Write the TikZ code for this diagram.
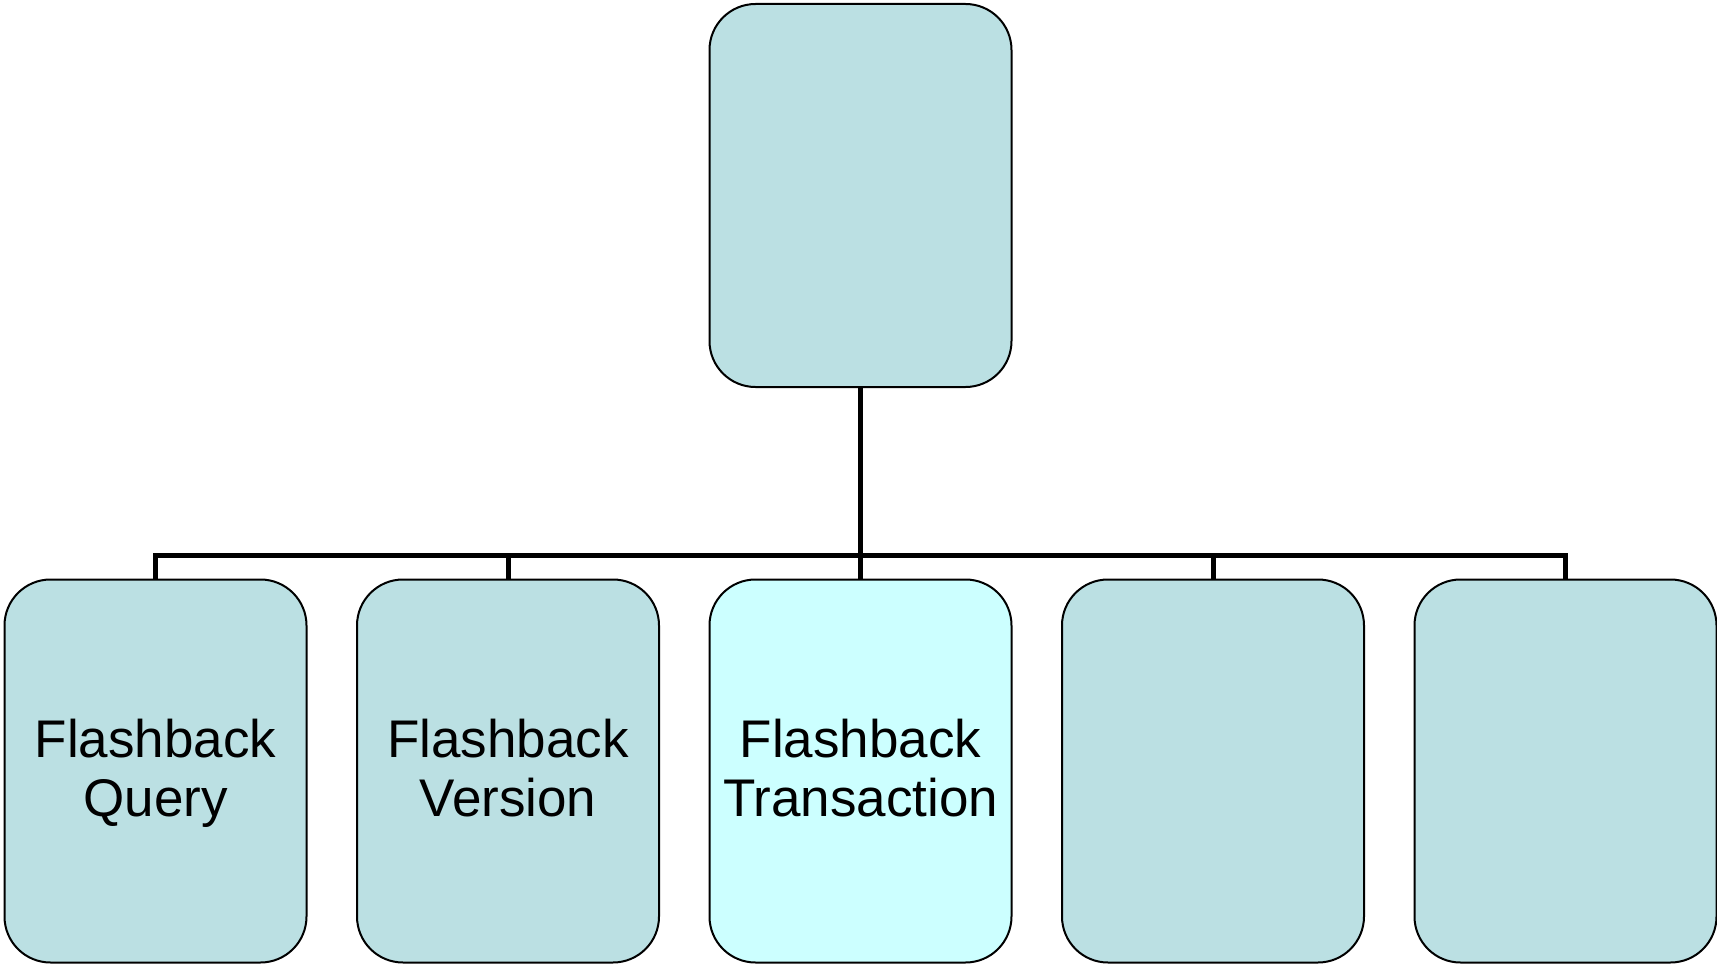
\documentclass[tikz,border=0pt]{standalone}
\usepackage{fontspec}
\setmainfont{Liberation Sans}
\definecolor{boxfill}{HTML}{BBE0E3}
\definecolor{hifill}{HTML}{CCFFFF}
\begin{document}
\begin{tikzpicture}[x=1pt,y=-1pt,
  orgbox/.style={draw=black, line width=2pt, fill=boxfill, rectangle,
    rounded corners=46pt, minimum width=302pt, minimum height=383pt, inner sep=0pt},
  lbl/.style={align=center, inner sep=0pt,
    font=\fontsize{53}{59}\selectfont},
  conn/.style={draw=black, line width=5pt, line join=miter}]
\useasboundingbox (0,0) rectangle (1717,966);

% top-level box
\node[orgbox] (top) at (860.5,195.5) {};

% second-level boxes
\node[orgbox] (b1) at (155.5,771) {};
\node[orgbox] (b2) at (508,771) {};
\node[orgbox, fill=hifill] (b3) at (860.5,771) {};
\node[orgbox] (b4) at (1213,771) {};
\node[orgbox] (b5) at (1565.5,771) {};

% labels
\node[lbl] (t1) at ([yshift=-4pt]b1.center) {Flashback\strut\\Query\strut};
\node[lbl] (t2) at ([yshift=-4pt]b2.center) {Flashback\strut\\Version\strut};
\node[lbl] (t3) at ([yshift=-4pt]b3.center) {Flashback\strut\\Transaction\strut};

% connector bus
\coordinate (bus) at (860.5,555);
\draw[conn] (top.south) -- (top.south |- bus);
\draw[conn] (b1.north) |- (bus) -| (b5.north);
\draw[conn] (b2.north) -- (b2.north |- bus);
\draw[conn] (b3.north) -- (b3.north |- bus);
\draw[conn] (b4.north) -- (b4.north |- bus);
\end{tikzpicture}
\end{document}
